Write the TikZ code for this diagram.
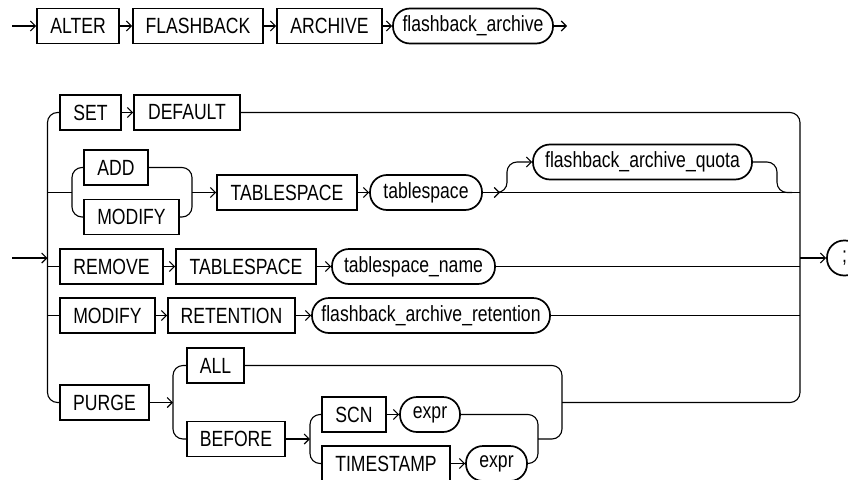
\documentclass[tikz,border=0pt]{standalone}
\usepackage{fontspec}
\setmainfont{Liberation Sans}[FakeStretch=0.80]
\usetikzlibrary{arrows.meta}
\tikzset{
  kw/.style={draw, line width=1.7pt, rectangle, minimum height=35pt, inner sep=0pt, font=\fontsize{22}{25}\selectfont},
  nt/.style={draw, line width=1.7pt, rectangle, rounded corners=17pt, minimum height=35pt, inner sep=0pt, font=\fontsize{22}{25}\selectfont},
  ln/.style={line width=1.1pt},
  rc/.style={ln, rounded corners=10pt},
  arr/.style={ln, -{Straight Barb[length=5pt,width=10pt,line width=1.1pt]}}
}
\begin{document}
\begin{tikzpicture}[x=1pt,y=-1pt]
\useasboundingbox (0,0) rectangle (848,479);
% Row 1
\coordinate (s1) at (12,26);
\node[kw, minimum width=82] (alter) at (78,26) {ALTER};
\node[kw, minimum width=130] (flash) at (198,26) {FLASHBACK};
\node[kw, minimum width=105] (arch) at (329.5,26) {ARCHIVE};
\node[nt, minimum width=160] (fa) at (473,26) {flashback\_archive};
\coordinate (e1) at (567,26);
\draw[arr] (s1) -- (alter.west);
\draw[arr] (alter.east) -- (flash.west);
\draw[arr] (flash.east) -- (arch.west);
\draw[arr] (arch.east) -- (fa.west);
\draw[arr] (fa.east) -- (e1);
% Row 2 nodes
\node[kw, minimum width=61] (set) at (90.5,112.5) {SET};
\node[kw, minimum width=106] (default) at (187,112.5) {DEFAULT};
\node[kw, minimum width=64] (add) at (116,167.5) {ADD};
\node[kw, minimum width=95] (mod1) at (131.5,217) {MODIFY};
\node[kw, minimum width=140] (ts1) at (287,192.5) {TABLESPACE};
\node[nt, minimum width=112] (tsp) at (426,192.5) {tablespace};
\node[nt, minimum width=219] (quota) at (642.5,162) {flashback\_archive\_quota};
\node[kw, minimum width=103] (remove) at (111.5,266.5) {REMOVE};
\node[kw, minimum width=140] (ts2) at (246,266.5) {TABLESPACE};
\node[nt, minimum width=163] (tsname) at (413.5,266.5) {tablespace\_name};
\node[kw, minimum width=95] (mod2) at (107.5,315.5) {MODIFY};
\node[kw, minimum width=127] (ret) at (231.5,315.5) {RETENTION};
\node[nt, minimum width=238] (far) at (431,315.5) {flashback\_archive\_retention};
\node[kw, minimum width=89] (purge) at (104.5,402.5) {PURGE};
\node[kw, minimum width=57] (all) at (215.5,365.5) {ALL};
\node[kw, minimum width=98] (before) at (236,439) {BEFORE};
\node[kw, minimum width=64] (scn) at (354,414.5) {SCN};
\node[nt, minimum width=60] (expra) at (430,414.5) {expr};
\node[kw, minimum width=128] (tstamp) at (386,463.5) {TIMESTAMP};
\node[nt, minimum width=61] (exprb) at (496.5,463.5) {expr};
\node[nt, minimum width=35] (semi) at (844.5,258) {;};
% coordinates
\coordinate (s2) at (12,258);
\coordinate (lv) at (47.5,258);
\coordinate (rv) at (800,258);
% left main bracket
\draw[arr] (s2) -- (lv);
\draw[rc] (set.west) -- (47.5,112.5) -- (47.5,402.5) -- (purge.west);
\draw[ln] (47.5,192.5) -- (72,192.5);
\draw[ln] (47.5,266.5) -- (remove.west);
\draw[ln] (47.5,315.5) -- (mod2.west);
% SET DEFAULT
\draw[arr] (set.east) -- (default.west);
% right main bracket
\draw[rc] (default.east) -- (800,112.5) -- (800,402.5) -- (562,402.5);
\draw[arr] (rv) -- (semi.west);
% ADD / MODIFY
\draw[rc] (add.west) -- (72,167.5) -- (72,217) -- (mod1.west);
\draw[rc] (add.east) -- (192,167.5) -- (192,217) -- (mod1.east);
\draw[arr] (192,192.5) -- (ts1.west);
\draw[arr] (ts1.east) -- (tsp.west);
\draw[arr] (tsp.east) -- (500,192.5);
\draw[ln] (499,192.5) -- (800,192.5);
\draw[rc,-{Straight Barb[length=5pt,width=10pt,line width=1.1pt]}] (497,192.5) -- (507,192.5) -- (507,162) -- (quota.west);
\draw[rc] (quota.east) -- (777,162) -- (777,192.5) -- (792,192.5);
% REMOVE
\draw[arr] (remove.east) -- (ts2.west);
\draw[arr] (ts2.east) -- (tsname.west);
\draw[ln] (tsname.east) -- (800,266.5);
% MODIFY RETENTION
\draw[arr] (mod2.east) -- (ret.west);
\draw[arr] (ret.east) -- (far.west);
\draw[ln] (far.east) -- (800,315.5);
% PURGE
\draw[arr] (purge.east) -- (173,402.5);
\draw[rc] (all.west) -- (173,365.5) -- (173,439) -- (before.west);
\draw[rc] (all.east) -- (562,365.5) -- (562,439) -- (538,439);
\draw[arr] (before.east) -- (310,439);
\draw[rc] (scn.west) -- (310,414.5) -- (310,463.5) -- (tstamp.west);
\draw[arr] (scn.east) -- (expra.west);
\draw[arr] (tstamp.east) -- (exprb.west);
\draw[rc] (expra.east) -- (538,414.5) -- (538,463.5) -- (exprb.east);
\end{tikzpicture}
\end{document}
